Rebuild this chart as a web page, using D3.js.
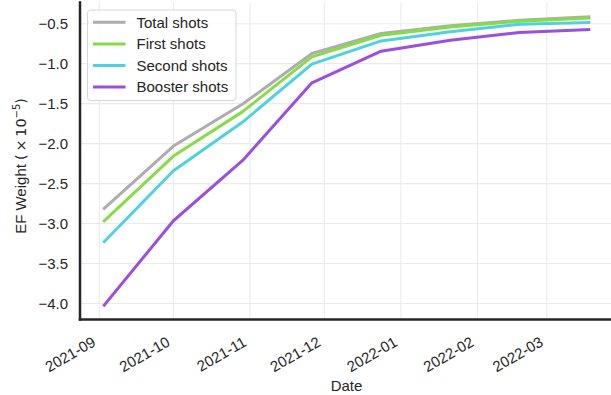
<!DOCTYPE html>
<html>
<head>
<meta charset="utf-8">
<script src="https://cdn.jsdelivr.net/npm/d3@7"></script>
<style>
  html, body { margin: 0; padding: 0; background: #fff; }
  svg { display: block; font-family: "Liberation Sans", Arial, sans-serif; }
</style>
</head>
<body>
<svg id="chart" width="611" height="395"></svg>
<script>
// Sampling dates (every four weeks)
const dates = ["2021-09-03", "2021-10-01", "2021-10-29", "2021-11-26",
               "2021-12-24", "2022-01-21", "2022-02-18", "2022-03-18"];

// EF weight per series, in units of 1e-5
const totalShots   = [-2.81, -2.03, -1.505, -0.873, -0.623, -0.527, -0.456, -0.415];
const firstShots   = [-2.965, -2.156, -1.60, -0.915, -0.644, -0.540, -0.470, -0.430];
const secondShots  = [-3.227, -2.34, -1.73, -1.006, -0.715, -0.600, -0.506, -0.485];
const boosterShots = [-4.02, -2.965, -2.21, -1.24, -0.844, -0.706, -0.610, -0.573];

const seriesNames  = ["Total shots", "First shots", "Second shots", "Booster shots"];
const seriesColors = ["#adadad", "#86dc45", "#4ed3dc", "#9b4fe0"];
const seriesValues = [totalShots, firstShots, secondShots, boosterShots];

const xTickDates = ["2021-09-01", "2021-10-01", "2021-11-01", "2021-12-01",
                    "2022-01-01", "2022-02-01", "2022-03-01"];
const yTicks = [-4.0, -3.5, -3.0, -2.5, -2.0, -1.5, -1.0, -0.5];

const parse = d3.utcParse("%Y-%m-%d");
const xDates = dates.map(parse);
const xTicks = xTickDates.map(parse);

const svg = d3.select("#chart");
const plot = { left: 80, right: 613, top: 2.5, bottom: 319.5 };
const FONT = 15;
const SANS = "'Liberation Sans', Arial, sans-serif";
const MATH = "'DejaVu Sans', sans-serif";

// 5% margins around the data, like the plotting defaults
const xExt = d3.extent(xDates);
const xPad = (xExt[1] - xExt[0]) * 0.05;
const x = d3.scaleUtc()
  .domain([new Date(+xExt[0] - xPad), new Date(+xExt[1] + xPad)])
  .range([plot.left, plot.right]);

const allVals = seriesValues.flat();
const yMin = d3.min(allVals), yMax = d3.max(allVals);
const yPad = (yMax - yMin) * 0.05;
const y = d3.scaleLinear()
  .domain([yMin - yPad, yMax + yPad])
  .range([plot.bottom, plot.top]);

// Grid
const grid = svg.append("g").attr("stroke", "#ebebeb").attr("stroke-width", 1.1);
grid.selectAll("line.gx").data(xTicks).join("line")
  .attr("x1", d => x(d)).attr("x2", d => x(d))
  .attr("y1", plot.top).attr("y2", plot.bottom);
grid.selectAll("line.gy").data(yTicks).join("line")
  .attr("x1", plot.left).attr("x2", plot.right)
  .attr("y1", d => y(d)).attr("y2", d => y(d));

// Series lines
const line = d3.line().x((d, i) => x(xDates[i])).y(d => y(d));
svg.append("g").selectAll("path").data(seriesValues).join("path")
  .attr("d", d => line(d))
  .attr("fill", "none")
  .attr("stroke", (d, i) => seriesColors[i])
  .attr("stroke-width", 3)
  .attr("stroke-linejoin", "round")
  .attr("stroke-linecap", "square");

// Axes (ticks hidden, labels only)
const fmtY = v => d3.format(".1f")(v).replace("-", "\u2212");
const yAxis = d3.axisLeft(y).tickValues(yTicks).tickFormat(fmtY).tickSize(0).tickPadding(12);
const gy = svg.append("g").attr("transform", `translate(${plot.left},0)`).call(yAxis);
gy.select(".domain").remove();
gy.selectAll("text").attr("font-size", FONT).attr("fill", "#262626")
  .attr("font-family", SANS);

const xAxis = d3.axisBottom(x).tickValues(xTicks).tickFormat(d3.utcFormat("%Y-%m")).tickSize(0);
const gx = svg.append("g").attr("transform", `translate(0,${plot.bottom})`).call(xAxis);
gx.select(".domain").remove();
gx.selectAll("text")
  .attr("font-size", FONT).attr("fill", "#262626")
  .attr("font-family", SANS)
  .attr("text-anchor", "end")
  .attr("dy", null)
  .attr("y", 0)
  .attr("transform", "translate(-3,25.5) rotate(-30)");

// Spines
svg.append("line")
  .attr("x1", plot.left).attr("x2", plot.left)
  .attr("y1", plot.top).attr("y2", plot.bottom)
  .attr("stroke", "#262626").attr("stroke-width", 2.5).attr("stroke-linecap", "square");
svg.append("line")
  .attr("x1", plot.left).attr("x2", plot.right)
  .attr("y1", plot.bottom).attr("y2", plot.bottom)
  .attr("stroke", "#262626").attr("stroke-width", 2.5).attr("stroke-linecap", "square");

// Axis titles
svg.append("text")
  .attr("x", (plot.left + 611) / 2 + 1).attr("y", 391)
  .attr("text-anchor", "middle").attr("font-size", FONT).attr("fill", "#262626")
  .attr("font-family", SANS)
  .text("Date");

const yl = svg.append("text")
  .attr("transform", `translate(26,${(plot.top + plot.bottom) / 2 + 5}) rotate(-90)`)
  .attr("text-anchor", "middle").attr("font-size", FONT).attr("fill", "#262626")
  .attr("font-family", SANS);
yl.append("tspan").text("EF Weight ");
yl.append("tspan").attr("font-family", MATH).attr("font-size", 14.3).text("(\u2009\u00d7\u200910");
yl.append("tspan").attr("font-family", MATH).attr("font-size", 10).attr("dy", -6).text("\u22125");
yl.append("tspan").attr("font-family", MATH).attr("font-size", 14.3).attr("dy", 6).text(")");

// Legend
const leg = svg.append("g");
leg.append("rect")
  .attr("x", 87.5).attr("y", 10).attr("width", 148.5).attr("height", 90.5)
  .attr("rx", 3).attr("fill", "#fff").attr("fill-opacity", 0.8)
  .attr("stroke", "#d6d6d6").attr("stroke-width", 1);
const rows = leg.selectAll("g.row").data(seriesNames).join("g")
  .attr("transform", (d, i) => `translate(0,${22.3 + i * 21.6})`);
rows.append("line")
  .attr("x1", 93).attr("x2", 125.5).attr("y1", 0).attr("y2", 0)
  .attr("stroke", (d, i) => seriesColors[i]).attr("stroke-width", 3);
rows.append("text")
  .attr("x", 136.5).attr("y", 5.3)
  .attr("font-size", FONT).attr("fill", "#262626")
  .attr("font-family", SANS)
  .text(d => d);
</script>
</body>
</html>
